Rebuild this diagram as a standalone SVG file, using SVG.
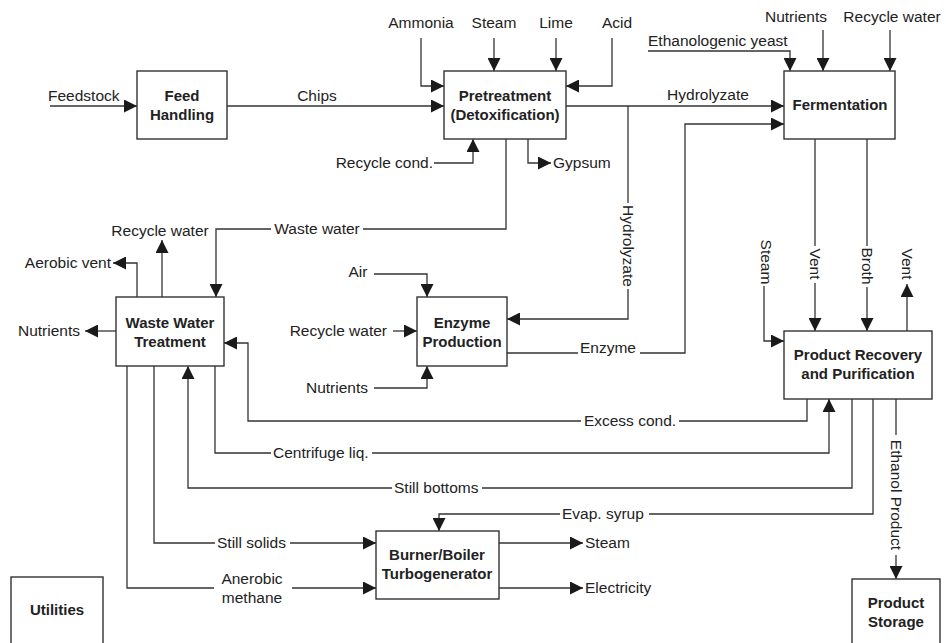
<svg xmlns="http://www.w3.org/2000/svg" width="946" height="643" viewBox="0 0 946 643">
<defs>
<marker id="ah" markerUnits="userSpaceOnUse" markerWidth="13" markerHeight="13" refX="13" refY="6.5" orient="auto">
<path d="M0,0 L13,6.5 L0,13 z" fill="#1a1a1a"/>
</marker>
<style>
text{font-family:"Liberation Sans",Arial,sans-serif;font-size:15.5px;fill:#222}
.b{font-weight:bold;text-anchor:middle;font-size:15px}
.m{text-anchor:middle}
.e{text-anchor:end}
.box{fill:#fff;stroke:#333;stroke-width:1.4}
.c path{fill:none;stroke:#333;stroke-width:1.3}
.c path.a{marker-end:url(#ah)}
</style>
</defs>
<rect width="946" height="643" fill="#fff"/>

<g class="c" id="connectors">
<path class="a" d="M50,106 H137"/>
<path class="a" d="M227,106 H444"/>
<path class="a" d="M421,38 V86 H444"/>
<path class="a" d="M494,38 V71"/>
<path class="a" d="M556,38 V71"/>
<path class="a" d="M612,38 V86 H566"/>
<path class="a" d="M434,163 H473 V139"/>
<path class="a" d="M528,139 V163 H551"/>
<path class="a" d="M566,106 H784"/>
<path d="M628,106 V203"/>
<path class="a" d="M628,289 V319 H507"/>
<path d="M507,353 H578"/>
<path class="a" d="M640,353 H685 V124 H784"/>
<path class="a" d="M648,51 H790 V71"/>
<path class="a" d="M823,30 V71"/>
<path class="a" d="M890,30 V71"/>
<path d="M815,139 V246"/>
<path class="a" d="M815,283 V331"/>
<path d="M867,139 V246"/>
<path class="a" d="M867,287 V331"/>
<path class="a" d="M907,331 V284"/>
<path class="a" d="M764,286 V341 H784"/>
<path d="M506,139 V229 H363"/>
<path class="a" d="M271,229 H216 V297"/>
<path class="a" d="M162,297 V240"/>
<path class="a" d="M137,297 V263 H113"/>
<path class="a" d="M116,331 H85"/>
<path d="M807,399 V421 H679"/>
<path class="a" d="M581,421 H248 V343 H224"/>
<path d="M215,366 V453 H271"/>
<path class="a" d="M372,453 H829 V399"/>
<path d="M852,399 V488 H482"/>
<path class="a" d="M392,488 H188 V366"/>
<path d="M873,399 V514 H649"/>
<path class="a" d="M560,514 H439 V531"/>
<path d="M896,399 V435"/>
<path class="a" d="M896,555 V579"/>
<path d="M154,366 V543 H215"/>
<path class="a" d="M290,543 H376"/>
<path d="M127,366 V588 H214"/>
<path class="a" d="M292,588 H376"/>
<path class="a" d="M499,543 H583"/>
<path class="a" d="M499,588 H583"/>
</g>

<g id="labels">
<text x="48" y="101">Feedstock</text>
<text class="m" x="317" y="101">Chips</text>
<text class="m" x="421" y="28">Ammonia</text>
<text class="m" x="494" y="28">Steam</text>
<text class="m" x="556" y="28">Lime</text>
<text class="m" x="617" y="28">Acid</text>
<text class="e" x="433" y="168">Recycle cond.</text>
<text x="553" y="168">Gypsum</text>
<text class="m" x="708" y="100">Hydrolyzate</text>
<text class="m" transform="translate(628,246) rotate(90)" dy="0.35em">Hydrolyzate</text>
<text x="580" y="353">Enzyme</text>
<text x="648" y="46">Ethanologenic yeast</text>
<text class="m" x="796" y="22">Nutrients</text>
<text class="m" x="892" y="22">Recycle water</text>
<text class="m" transform="translate(815,264) rotate(90)" dy="0.35em">Vent</text>
<text class="m" transform="translate(867,266) rotate(90)" dy="0.35em">Broth</text>
<text class="m" transform="translate(907,264) rotate(90)" dy="0.35em">Vent</text>
<text class="m" transform="translate(766,262) rotate(90)" dy="0.35em">Steam</text>
<text class="m" x="317" y="234">Waste water</text>
<text class="m" x="160" y="236">Recycle water</text>
<text class="e" x="111" y="268">Aerobic vent</text>
<text class="e" x="80" y="336">Nutrients</text>
<text class="m" x="630" y="426">Excess cond.</text>
<text x="273" y="458">Centrifuge liq.</text>
<text x="394" y="493">Still bottoms</text>
<text x="562" y="519">Evap. syrup</text>
<text class="m" transform="translate(896,495) rotate(90)" dy="0.35em">Ethanol Product</text>
<text x="217" y="548">Still solids</text>
<text class="m" x="252" y="584">Anerobic</text>
<text class="m" x="252" y="603">methane</text>
<text x="585" y="548">Steam</text>
<text x="585" y="593">Electricity</text>
<text class="m" x="358" y="277">Air</text>
<text class="e" x="387" y="336">Recycle water</text>
<text class="e" x="368" y="393">Nutrients</text>
</g>

<g id="enzyme-inputs" class="c">
<path class="a" d="M374,274 H427 V297"/>
<path class="a" d="M393,331 H417"/>
<path class="a" d="M374,388 H427 V366"/>
</g>

<g id="feed-handling">
<rect class="box" x="137" y="71" width="90" height="68"/>
<text class="b" x="182" y="101">Feed</text>
<text class="b" x="182" y="120">Handling</text>
</g>
<g id="pretreatment">
<rect class="box" x="444" y="71" width="122" height="68"/>
<text class="b" x="505" y="101">Pretreatment</text>
<text class="b" x="505" y="120">(Detoxification)</text>
</g>
<g id="fermentation">
<rect class="box" x="784" y="71" width="111" height="68"/>
<text class="b" x="840" y="110">Fermentation</text>
</g>
<g id="waste-water-treatment">
<rect class="box" x="116" y="297" width="108" height="69"/>
<text class="b" x="170" y="328">Waste Water</text>
<text class="b" x="170" y="347">Treatment</text>
</g>
<g id="enzyme-production">
<rect class="box" x="417" y="297" width="90" height="69"/>
<text class="b" x="462" y="328">Enzyme</text>
<text class="b" x="462" y="347">Production</text>
</g>
<g id="product-recovery">
<rect class="box" x="784" y="331" width="148" height="68"/>
<text class="b" x="858" y="360">Product Recovery</text>
<text class="b" x="858" y="379">and Purification</text>
</g>
<g id="burner-boiler">
<rect class="box" x="376" y="531" width="123" height="68"/>
<text class="b" x="437" y="560">Burner/Boiler</text>
<text class="b" x="437" y="579">Turbogenerator</text>
</g>
<g id="utilities">
<rect class="box" x="11" y="577" width="92" height="80"/>
<text class="b" x="57" y="615">Utilities</text>
</g>
<g id="product-storage">
<rect class="box" x="852" y="579" width="88" height="80"/>
<text class="b" x="896" y="608">Product</text>
<text class="b" x="896" y="627">Storage</text>
</g>
</svg>
